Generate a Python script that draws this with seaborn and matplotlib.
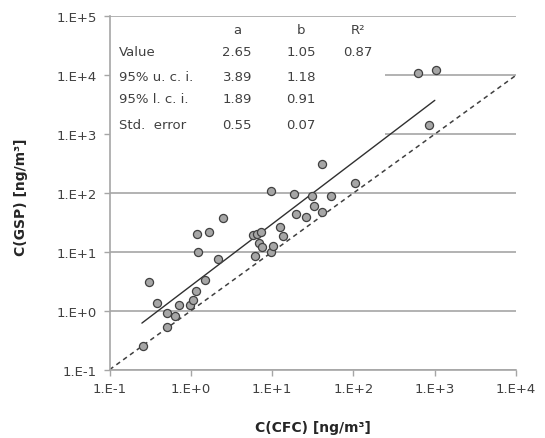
import numpy as np
import pandas as pd
import matplotlib
matplotlib.use("Agg")
import matplotlib.pyplot as plt
from matplotlib.ticker import FuncFormatter, FixedLocator, NullLocator
from matplotlib.patches import Rectangle
import seaborn as sns

# Data
cfc = [0.256, 0.308, 0.379, 0.506, 0.506, 0.641, 0.707, 0.967, 1.05, 1.15,
       1.18, 1.23, 1.49, 1.65, 2.15, 2.50, 5.89, 6.14, 6.50, 6.98,
       7.24, 7.49, 9.62, 9.62, 10.2, 12.5, 13.7, 18.5, 19.8, 26.4,
       31.3, 32.7, 40.5, 40.7, 52.5, 105, 615, 1047, 857]
gsp = [0.255, 3.05, 1.36, 0.91, 0.527, 0.82, 1.23, 1.27, 1.54, 2.13,
       20.4, 9.9, 3.36, 21.5, 7.57, 38.1, 19.4, 8.59, 20.1, 14.1,
       21.5, 12.2, 107, 9.85, 12.8, 26.3, 18.3, 95.4, 44.0, 39.6,
       90.0, 59.7, 48.2, 307, 90.0, 150, 10900, 12400, 1427]

# Regression parameters (table in chart)
col_labels = ["a", "b", "R²"]
row_labels = ["Value", "95% u. c. i.", "95% l. c. i.", "Std.  error"]
a_vals = ["2.65", "3.89", "1.89", "0.55"]
b_vals = ["1.05", "1.18", "0.91", "0.07"]
r2_vals = ["0.87", "", "", ""]
a_fit = 2.65
b_fit = 1.05
fit_range = [0.25, 1000]
one_to_one = [0.1, 10000]

df = pd.DataFrame({"CFC": cfc, "GSP": gsp})
fit_df = pd.DataFrame({"x": fit_range,
                       "y": [a_fit * v ** b_fit for v in fit_range]})
ref_df = pd.DataFrame({"x": one_to_one, "y": one_to_one})

sns.set_style("white")
plt.rcParams["font.family"] = ["DejaVu Sans"]

fig = plt.figure(figsize=(5.45, 4.39), dpi=100)
ax = fig.add_axes([0.201, 0.1556, 0.746, 0.805])
ax.set_xscale("log")
ax.set_yscale("log")
ax.set_xlim(0.1, 10000)
ax.set_ylim(0.1, 100000)

# horizontal gridlines
ax.set_axisbelow(True)
ax.yaxis.grid(True, color="#a6a6a6", linewidth=1.2)
ax.xaxis.grid(False)

# white box behind the parameter table
ax.add_patch(Rectangle((0.0, 0.661), 0.678, 0.33, transform=ax.transAxes,
                       facecolor="white", edgecolor="none", zorder=1))

sns.lineplot(data=ref_df, x="x", y="y", ax=ax, color="#404040",
             linestyle=(0, (3, 2.5)), linewidth=1.1, zorder=2)
sns.lineplot(data=fit_df, x="x", y="y", ax=ax, color="#303030",
             linewidth=1.0, zorder=2)
sns.scatterplot(data=df, x="CFC", y="GSP", ax=ax, s=34, color="#a6a6a6",
                edgecolor="#404040", linewidth=0.9, zorder=3)

# ticks
ax.xaxis.set_major_locator(FixedLocator([10.0 ** k for k in range(-1, 5)]))
ax.yaxis.set_major_locator(FixedLocator([10.0 ** k for k in range(-1, 6)]))
ax.xaxis.set_minor_locator(NullLocator())
ax.yaxis.set_minor_locator(NullLocator())
fmt = FuncFormatter(lambda v, p: "1.E{:+d}".format(int(round(np.log10(v)))))
ax.xaxis.set_major_formatter(fmt)
ax.yaxis.set_major_formatter(fmt)
ax.tick_params(axis="both", which="major", direction="out", length=4,
               width=1, color="#a6a6a6", labelsize=9.5, labelcolor="#404040",
               pad=5, bottom=True, left=True)

for side in ["top", "right"]:
    ax.spines[side].set_visible(False)
for side in ["left", "bottom"]:
    ax.spines[side].set_color("#a6a6a6")
    ax.spines[side].set_linewidth(1.2)

ax.set_xlabel("C(CFC) [ng/m³]", fontsize=10, fontweight="bold",
              color="#262626", labelpad=18)
ax.set_ylabel("C(GSP) [ng/m³]", fontsize=10, fontweight="bold",
              color="#262626", labelpad=14)
ax.yaxis.set_label_coords(-0.2, 0.49)

# parameter table
tcol = "#404040"
col_x = [0.314, 0.471, 0.611]
row_y = [0.899, 0.831, 0.766, 0.695]
for cx, lab in zip(col_x, col_labels):
    ax.text(cx, 0.964, lab, transform=ax.transAxes, ha="center", va="center",
            fontsize=9.5, color=tcol, zorder=4)
for i, ry in enumerate(row_y):
    ax.text(0.023, ry, row_labels[i], transform=ax.transAxes, ha="left",
            va="center", fontsize=9.5, color=tcol, zorder=4)
    for cx, vals in zip(col_x, [a_vals, b_vals, r2_vals]):
        ax.text(cx, ry, vals[i], transform=ax.transAxes, ha="center",
                va="center", fontsize=9.5, color=tcol, zorder=4)

fig.savefig("out.png", dpi=100)
